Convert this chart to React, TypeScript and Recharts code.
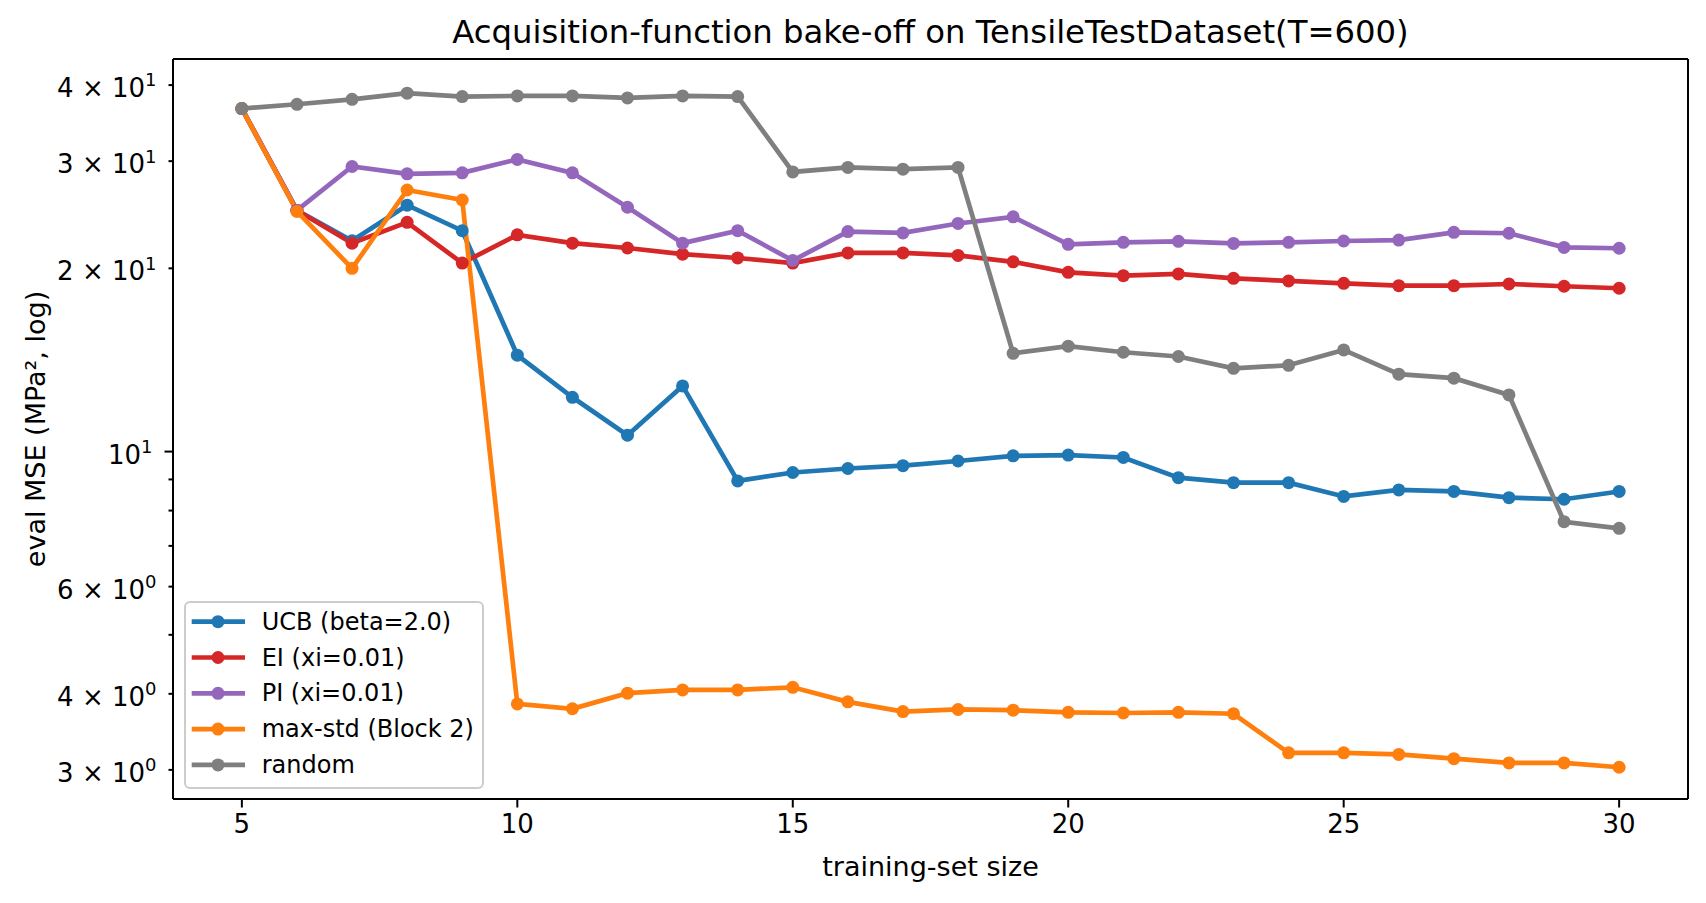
import React from 'react';
import { LineChart, Line, XAxis, YAxis, Legend, Label } from 'recharts';

const FONT = '"DejaVu Sans", sans-serif';

const sizes = [5, 6, 7, 8, 9, 10, 11, 12, 13, 14, 15, 16, 17, 18, 19, 20, 21, 22, 23, 24, 25, 26, 27, 28, 29, 30];
const ucb = [36.6, 24.9, 22.2, 25.4, 23.06, 14.4, 12.28, 10.64, 12.82, 8.95, 9.24, 9.38, 9.48, 9.65, 9.84, 9.87, 9.78, 9.06, 8.89, 8.89, 8.44, 8.65, 8.6, 8.4, 8.35, 8.6];
const ei = [36.6, 24.9, 22.0, 23.8, 20.4, 22.7, 22.0, 21.6, 21.1, 20.8, 20.4, 21.2, 21.2, 21.0, 20.5, 19.7, 19.45, 19.58, 19.26, 19.07, 18.9, 18.73, 18.73, 18.85, 18.69, 18.55];
const pi = [36.6, 24.9, 29.4, 28.6, 28.7, 30.2, 28.7, 25.2, 22.0, 23.06, 20.6, 22.98, 22.87, 23.7, 24.3, 21.9, 22.07, 22.15, 21.98, 22.07, 22.18, 22.26, 22.92, 22.84, 21.65, 21.58];
const maxStd = [36.6, 24.8, 20.0, 26.9, 25.9, 3.85, 3.78, 4.01, 4.06, 4.06, 4.1, 3.88, 3.74, 3.77, 3.76, 3.73, 3.72, 3.73, 3.71, 3.2, 3.2, 3.18, 3.13, 3.08, 3.08, 3.03];
const random = [36.6, 37.2, 37.9, 38.8, 38.3, 38.4, 38.4, 38.1, 38.4, 38.3, 28.8, 29.3, 29.1, 29.3, 14.5, 14.9, 14.56, 14.33, 13.7, 13.86, 14.69, 13.4, 13.2, 12.39, 7.67, 7.48];

const seriesNames = ['UCB (beta=2.0)', 'EI (xi=0.01)', 'PI (xi=0.01)', 'max-std (Block 2)', 'random'];
const seriesKeys = ['ucb', 'ei', 'pi', 'maxStd', 'random'];
const seriesColors = ['#1f77b4', '#d62728', '#9467bd', '#ff7f0e', '#7f7f7f'];
const seriesValues = [ucb, ei, pi, maxStd, random];

const xTicks = [5, 10, 15, 20, 25, 30];
const yTicks = [3, 4, 5, 6, 7, 8, 9, 10, 20, 30, 40];
const yTickBase: Record<number, string> = { 3: '3 × 10', 4: '4 × 10', 6: '6 × 10', 10: '10', 20: '2 × 10', 30: '3 × 10', 40: '4 × 10' };
const yTickExp: Record<number, string> = { 3: '0', 4: '0', 6: '0', 10: '1', 20: '1', 30: '1', 40: '1' };

const title = 'Acquisition-function bake-off on TensileTestDataset(T=600)';
const xLabel = 'training-set size';
const yLabel = 'eval MSE (MPa², log)';

const data = sizes.map((x, i) => {
  const row: Record<string, number> = { x };
  seriesKeys.forEach((k, s) => {
    row[k] = seriesValues[s][i];
  });
  return row;
});

const YTick = (props: any) => {
  const { x, y, payload } = props;
  const v = payload.value;
  const major = v === 10;
  const len = major ? 8.5 : 4.5;
  const base = yTickBase[v];
  return (
    <g>
      <line x1={x - len} x2={x} y1={y} y2={y} stroke="#000" strokeWidth={2} />
      {base && (
        <text x={x - len - 12} y={y + 12} textAnchor="end" fontSize={26} fontFamily={FONT} fill="#000">
          <tspan>{base}</tspan>
          <tspan dy={-10.6} fontSize={18}>{yTickExp[v]}</tspan>
        </text>
      )}
    </g>
  );
};

const XTick = (props: any) => {
  const { x, y, payload } = props;
  return (
    <g>
      <line x1={x} x2={x} y1={y} y2={y + 8.5} stroke="#000" strokeWidth={2} />
      <text x={x} y={y + 34} textAnchor="middle" fontSize={26} fontFamily={FONT} fill="#000">
        {payload.value}
      </text>
    </g>
  );
};

const LegendBox = (props: any) => {
  const { payload } = props;
  const items = [...(payload || [])].sort(
    (a: any, b: any) => seriesNames.indexOf(a.value) - seriesNames.indexOf(b.value)
  );
  return (
    <svg width={301} height={189} style={{ display: 'block', overflow: 'visible' }}>
      <rect x={1} y={1} width={298} height={186} rx={5} ry={5} fill="#fff" fillOpacity={0.8} stroke="#cccccc" strokeWidth={2} />
      {items.map((p: any, i: number) => {
        const cy = 20.7 + i * 35.8;
        return (
          <g key={i}>
            <line x1={7.7} x2={61} y1={cy} y2={cy} stroke={p.color} strokeWidth={4.7} />
            <circle cx={34} cy={cy} r={6.5} fill={p.color} />
            <text x={77.7} y={cy + 8} fontSize={24} fontFamily={FONT} fill="#000">
              {p.value}
            </text>
          </g>
        );
      })}
    </svg>
  );
};

export default function App() {
  return (
    <div style={{ position: 'absolute', left: 0, top: 0, width: 1706, height: 903, background: '#fff' }}>
      <LineChart width={1706} height={903} data={data} margin={{ top: 58, right: 17, bottom: 103, left: 172 }}>
        <XAxis
          xAxisId="main"
          dataKey="x"
          type="number"
          domain={[3.75, 31.25]}
          allowDataOverflow
          ticks={xTicks}
          interval={0}
          height={1}
          tickSize={0}
          tickMargin={0}
          tickLine={false}
          tick={<XTick />}
          axisLine={{ stroke: '#000', strokeWidth: 2 }}
        >
          <Label
            content={(p: any) => {
              const vb = p.viewBox || { x: 173, y: 799, width: 1515, height: 0 };
              return (
                <text x={vb.x + vb.width / 2} y={vb.y + 77} textAnchor="middle" fontSize={27} fontFamily={FONT} fill="#000">
                  {xLabel}
                </text>
              );
            }}
          />
        </XAxis>
        <XAxis
          xAxisId="top"
          orientation="top"
          type="number"
          domain={[3.75, 31.25]}
          ticks={xTicks}
          height={1}
          tick={false}
          tickLine={false}
          axisLine={{ stroke: '#000', strokeWidth: 2 }}
        >
          <Label
            content={(p: any) => {
              const vb = p.viewBox || { x: 173, y: 58, width: 1515, height: 1 };
              return (
                <text x={vb.x + vb.width / 2} y={vb.y + vb.height - 16} textAnchor="middle" fontSize={32.3} fontFamily={FONT} fill="#000">
                  {title}
                </text>
              );
            }}
          />
        </XAxis>
        <YAxis
          yAxisId="main"
          scale="log"
          type="number"
          domain={[2.687, 44.15]}
          allowDataOverflow
          ticks={yTicks}
          interval={0}
          width={1}
          tickSize={0}
          tickMargin={0}
          tickLine={false}
          tick={<YTick />}
          axisLine={{ stroke: '#000', strokeWidth: 2 }}
        >
          <Label
            content={(p: any) => {
              const vb = p.viewBox || { x: 172, y: 59, width: 1, height: 740 };
              const cx = vb.x + vb.width - 128;
              const cy = vb.y + vb.height / 2;
              return (
                <text x={cx} y={cy} transform={`rotate(-90, ${cx}, ${cy})`} textAnchor="middle" fontSize={27} fontFamily={FONT} fill="#000">
                  {yLabel}
                </text>
              );
            }}
          />
        </YAxis>
        <YAxis
          yAxisId="right"
          orientation="right"
          type="number"
          domain={[0, 1]}
          ticks={[0, 1]}
          width={1}
          tick={false}
          tickLine={false}
          axisLine={{ stroke: '#000', strokeWidth: 2 }}
        />
        <Legend
          layout="horizontal"
          align="center"
          verticalAlign="middle"
          content={<LegendBox />}
          wrapperStyle={{ position: 'absolute', left: 184, top: 601, width: 301, height: 189 }}
        />
        {seriesKeys.map((k, s) => (
          <Line
            key={k}
            xAxisId="main"
            yAxisId="main"
            type="linear"
            dataKey={k}
            name={seriesNames[s]}
            stroke={seriesColors[s]}
            strokeWidth={4.7}
            dot={{ r: 6.5, fill: seriesColors[s], stroke: seriesColors[s], strokeWidth: 0 }}
            activeDot={false}
            isAnimationActive={false}
          />
        ))}
      </LineChart>
    </div>
  );
}
